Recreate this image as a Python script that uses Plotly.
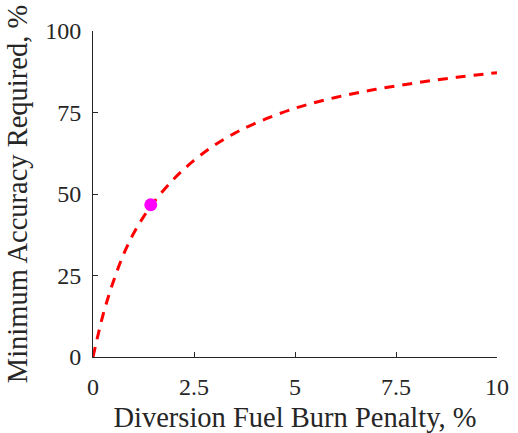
import plotly.graph_objects as go

# Curve
penalty = [0, 0.25, 0.5, 0.75, 1.0, 1.25, 1.5, 2.0, 2.5, 3.0, 3.5, 4.0, 5.0, 6.0, 7.0, 8.0, 9.0, 10.0]
accuracy = [0, 13.0, 23.0, 31.3, 37.8, 43.0, 47.4, 54.6, 60.3, 64.9, 68.6, 71.6, 76.3, 79.6, 82.1, 84.1, 85.8, 87.2]

# Highlighted point
point_x = [1.43]
point_y = [46.7]

x_ticks = [0, 2.5, 5, 7.5, 10]
x_tick_text = ["0", "2.5", "5", "7.5", "10"]
y_ticks = [0, 25, 50, 75, 100]
y_tick_text = ["0", "25", "50", "75", "100"]

FONT = "Liberation Serif, Times New Roman, serif"
TXT = "#262626"

fig = go.Figure()
fig.add_trace(go.Scatter(
    x=penalty, y=accuracy, mode="lines",
    line=dict(color="#ff0000", width=3, dash="10px,8px", shape="spline", smoothing=1.0),
    showlegend=False, hoverinfo="skip", cliponaxis=False))
fig.add_trace(go.Scatter(
    x=point_x, y=point_y, mode="markers",
    marker=dict(color="#ff00ff", size=13, line=dict(width=0)),
    showlegend=False))

axis_common = dict(
    showgrid=False, zeroline=False, showline=True, linecolor=TXT, linewidth=1,
    ticks="inside", ticklen=5, tickcolor=TXT, tickwidth=1,
    tickfont=dict(family=FONT, size=24, color=TXT),
    mirror=False, automargin=False,
)
fig.update_xaxes(range=[0, 10], tickvals=x_ticks, ticktext=x_tick_text,
                 ticklabelstandoff=8,
                 title=dict(text="Diversion Fuel Burn Penalty, %", font=dict(family=FONT, size=28.5, color=TXT), standoff=8),
                 **axis_common)
fig.update_yaxes(range=[0, 100], tickvals=y_ticks, ticktext=y_tick_text,
                 ticklabelstandoff=6,
                 title=dict(text="Minimum Accuracy Required, %", font=dict(family=FONT, size=28.5, color=TXT), standoff=9),
                 **axis_common)

fig.update_layout(
    width=518, height=433,
    margin=dict(l=93, r=21, t=31, b=76),
    plot_bgcolor="white", paper_bgcolor="white",
)
fig.write_html("out.html")
